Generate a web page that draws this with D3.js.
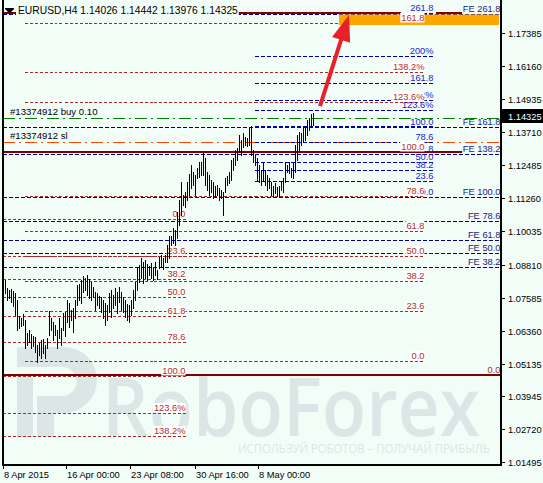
<!DOCTYPE html>
<html><head><meta charset="utf-8">
<script src="https://cdn.jsdelivr.net/npm/d3@7"></script>
<style>html,body{margin:0;padding:0;background:#F3FDF8;}svg{display:block}</style>
</head><body>
<svg id="c" width="543" height="483"></svg>
<script>
// ---------------- DATA ----------------
const titleText = "EURUSD,H4  1.14026 1.14442 1.13976 1.14325";
const currentPrice = 1.14325;
const currentPriceLabel = "1.14325";

// H4 bars (high / low), left to right
const barHigh = [1.0868,1.0824,1.0794,1.0787,1.0790,1.0783,1.0775,1.0750,1.0690,1.0683,
1.0698,1.0676,1.0628,1.0639,1.0624,1.0616,1.0613,1.0583,1.0590,1.0602,
1.0605,1.0583,1.0609,1.0709,1.0683,1.0668,1.0657,1.0639,1.0683,1.0646,
1.0701,1.0705,1.0750,1.0739,1.0713,1.0720,1.0750,1.0805,1.0809,1.0824,
1.0839,1.0831,1.0843,1.0828,1.0817,1.0798,1.0779,1.0775,1.0764,1.0761,
1.0750,1.0739,1.0731,1.0775,1.0787,1.0768,1.0794,1.0779,1.0798,1.0779,
1.0761,1.0750,1.0735,1.0731,1.0750,1.0787,1.0817,1.0868,1.0880,1.0905,
1.0891,1.0898,1.0883,1.0876,1.0887,1.0868,1.0891,1.0861,1.0909,1.0917,
1.0905,1.0917,1.0954,1.0987,1.0987,1.1017,1.1009,1.1076,1.1120,1.1187,
1.1139,1.1150,1.1187,1.1216,1.1250,1.1224,1.1213,1.1239,1.1261,1.1261,
1.1294,1.1276,1.1224,1.1213,1.1194,1.1187,1.1172,1.1176,1.1165,1.1157,
1.1150,1.1202,1.1209,1.1224,1.1268,1.1276,1.1305,1.1313,1.1361,1.1343,
1.1368,1.1354,1.1350,1.1387,1.1394,1.1305,1.1287,1.1276,1.1250,1.1231,
1.1261,1.1231,1.1213,1.1202,1.1187,1.1172,1.1183,1.1168,1.1172,1.1187,
1.1202,1.1261,1.1250,1.1261,1.1239,1.1257,1.1324,1.1361,1.1372,1.1368,
1.1387,1.1387,1.1417,1.1424,1.1437,1.1444];
const barLow = [1.0779,1.0775,1.0750,1.0757,1.0742,1.0728,1.0694,1.0639,1.0646,1.0653,
1.0657,1.0572,1.0583,1.0594,1.0572,1.0579,1.0557,1.0520,1.0546,1.0535,
1.0553,1.0535,1.0572,1.0620,1.0639,1.0602,1.0620,1.0572,1.0609,1.0583,
1.0639,1.0616,1.0668,1.0650,1.0676,1.0631,1.0683,1.0731,1.0750,1.0739,
1.0779,1.0787,1.0768,1.0757,1.0750,1.0761,1.0713,1.0731,1.0720,1.0705,
1.0683,1.0657,1.0676,1.0705,1.0687,1.0720,1.0731,1.0701,1.0742,1.0713,
1.0705,1.0687,1.0676,1.0668,1.0694,1.0720,1.0750,1.0787,1.0817,1.0831,
1.0813,1.0831,1.0824,1.0843,1.0831,1.0824,1.0843,1.0828,1.0868,1.0872,
1.0865,1.0891,1.0891,1.0905,1.0954,1.0961,1.0954,1.0980,1.1028,1.1065,
1.1102,1.1094,1.1120,1.1139,1.1165,1.1176,1.1139,1.1202,1.1205,1.1213,
1.1213,1.1176,1.1157,1.1139,1.1150,1.1128,1.1131,1.1139,1.1120,1.1128,
1.1065,1.1150,1.1176,1.1183,1.1194,1.1231,1.1250,1.1268,1.1298,1.1287,
1.1317,1.1324,1.1320,1.1324,1.1287,1.1261,1.1250,1.1194,1.1187,1.1176,
1.1194,1.1176,1.1157,1.1165,1.1139,1.1131,1.1146,1.1135,1.1131,1.1157,
1.1150,1.1187,1.1224,1.1220,1.1205,1.1202,1.1224,1.1268,1.1305,1.1324,
1.1335,1.1343,1.1361,1.1380,1.1391,1.1398];

const timeTickBars = [0, 32, 64, 96, 128];
const timeTickLabels = ["8 Apr 2015", "16 Apr 00:00", "23 Apr 08:00", "30 Apr 16:00", "8 May 00:00"];
const priceTickLabels = ["1.17385","1.16160","1.14935","1.13710","1.12485","1.11260","1.10035",
"1.08810","1.07585","1.06360","1.05135","1.03945","1.02720","1.01495"];

// Fibonacci retracement A (brown)
const fibA_ratios = [0, 23.6, 38.2, 50, 61.8, 78.6, 100, 123.6, 138.2, 161.8];
const fibA_labels = ["0.0","23.6","38.2","50.0","61.8","78.6","100.0","123.6%","138.2%","161.8"];
const fibA_prices = [1.0525, 1.1299];
const fibA_bars = [10.75, 210.25];
// Fibonacci retracement C (brown, lower left)
const fibC_ratios = [0, 23.6, 38.2, 50, 61.8, 78.6, 100, 123.6, 138.2];
const fibC_labels = ["0.0","23.6","38.2","50.0","61.8","78.6","100.0","123.6%","138.2%"];
const fibC_prices = [1.1050, 1.0468];
const fibC_bars = [-0.25, 90.75];
// Fibonacci B (blue)
const fibB_ratios = [0, 23.6, 38.2, 50, 61.8, 78.6, 100, 123.6, 138.2, 161.8, 200, 261.8];
const fibB_labels = ["0.0","23.6","38.2","50.0","61.8","78.6","100.0","123.6%","138.2%","161.8","200%","261.8"];
const fibB_prices = [1.1130, 1.1391];
const fibB_bars = [125.75, 214.75];
// Fibonacci expansion (navy)
const fe_ratios = [38.2, 50, 61.8, 78.6, 100, 138.2, 161.8, 261.8];
const fe_labels = ["FE 38.2","FE 50.0","FE 61.8","FE 78.6","FE 100.0","FE 138.2","FE 161.8","FE 261.8"];
const fe_prices = [1.0713, 1.1132];
const fe_bars = [-0.25, 248.25];
// solid levels (price, from bar, to bar, label)
const solidPrices = [1.1813, 1.1813, 1.1298, 1.0472];
const solidFrom = [-0.25, 216.25, -0.25, -0.25];
const solidTo = [198.25, 228.75, 228.75, 248.25];
const solidLabels = ["", "", "", "0.0"];
// order lines
const orderNames = ["#13374912 buy 0.10", "#13374912 sl"];
const orderPrices = [1.1423, 1.1334];
// target zone
const zonePrices = [1.1807, 1.1768];
const zoneBars = [167.75, 247.75];
// arrow
const arrowBars = [158.25, 172.75];
const arrowPrices = [1.1468, 1.1805];
// watermark
const wmBrand = "RoboForex";
const wmSlogan = "ИСПОЛЬЗУЙ РОБОТОВ – ПОЛУЧАЙ ПРИБЫЛЬ";

// ---------------- DRAW ----------------
const W = 543, H = 483, bg = "#F3FDF8";
const FONT = "Liberation Sans, Arial, sans-serif";
const svg = d3.select("#c");
svg.append("rect").attr("width", W).attr("height", H).attr("fill", bg);

const x = d3.scaleLinear().domain([0, 249]).range([3.5, 501.5]);
const y = d3.scaleLinear().domain([1.01495, 1.17385]).range([462, 33]);
svg.append("defs").append("clipPath").attr("id", "pc")
  .append("rect").attr("x", 2).attr("y", 0).attr("width", 499).attr("height", 465);

const plot = svg.append("g").attr("clip-path", "url(#pc)");

// watermark
const wm = plot.append("g").attr("fill", "#DCE6E6");
wm.append("path").attr("d",
  "M17,347 H64 A33,33 0 0 1 64,413 H54 V437 H37 V396 H62 A14.5,14.5 0 0 0 62,367 H17 Z M17,375 H33 V437 H17 Z");
wm.append("text").attr("x", 102).attr("y", 436).attr("font-family", "Open Sans, sans-serif")
  .attr("font-weight", 600)
  .attr("font-size", 82).attr("textLength", 378).attr("lengthAdjust", "spacingAndGlyphs").text(wmBrand);
wm.append("text").attr("x", 238).attr("y", 453).attr("font-family", "Open Sans, sans-serif")
  .attr("font-size", 13.5).attr("textLength", 252).attr("lengthAdjust", "spacingAndGlyphs").text(wmSlogan);

const lines = plot.append("g");
function hline(price, b0, b1, color, width, dash) {
  const yy = width % 2 === 1 ? Math.round(y(price)) + 0.5 : Math.round(y(price));
  lines.append("line").attr("x1", x(b0) - 0.5).attr("x2", x(b1) + 0.5)
    .attr("y1", yy).attr("y2", yy).attr("stroke", color).attr("stroke-width", width)
    .attr("stroke-dasharray", dash || null).attr("shape-rendering", "crispEdges");
}
const lvl = (p, r) => p[0] + r / 100 * (p[1] - p[0]);

fe_ratios.forEach(r => hline(lvl(fe_prices, r), fe_bars[0], fe_bars[1], "#000080", 1, "4,2"));
hline(orderPrices[1], -0.25, 248.25, "#FF4500", 1, "12,4,2,4");
hline(orderPrices[0], -0.25, 248.25, "#008000", 1, "12,4,2,4");
fibB_ratios.forEach(r => hline(lvl(fibB_prices, r), fibB_bars[0], fibB_bars[1], "#0000A0", r === 100 ? 2 : 1, "4,2"));
fibA_ratios.forEach(r => hline(lvl(fibA_prices, r), fibA_bars[0], fibA_bars[1], "#A52A2A", 1, "3,2"));
fibC_ratios.forEach(r => hline(lvl(fibC_prices, r), fibC_bars[0], fibC_bars[1], "#A52A2A", 1, "3,2"));
solidPrices.forEach((p, i) => hline(p, solidFrom[i], solidTo[i], "#800000", 2, null));

plot.append("rect").attr("x", x(zoneBars[0])).attr("width", x(zoneBars[1]) - x(zoneBars[0]))
  .attr("y", y(zonePrices[0])).attr("height", y(zonePrices[1]) - y(zonePrices[0])).attr("fill", "#FFA500");

const labels = plot.append("g").attr("font-family", FONT).attr("font-size", 9.3);
function label(txt, xr, price, color, box) {
  const yy = Math.round(y(price)) - 2;
  const g = labels.append("g");
  const t = g.append("text").attr("x", xr).attr("y", yy).attr("text-anchor", "end").attr("fill", color).text(txt);
  if (box) {
    const w = t.node().getComputedTextLength();
    g.insert("rect", "text").attr("x", xr - w - 1).attr("y", yy - 8).attr("width", w + 1).attr("height", 9.5).attr("fill", "#FFFFFF");
  }
}
fibB_ratios.forEach((r, i) => label(fibB_labels[i], x(fibB_bars[1]) + 0.5, lvl(fibB_prices, r), "#2222D8", false));
fe_ratios.forEach((r, i) => label(fe_labels[i], x(fe_bars[1]) + 0.5, lvl(fe_prices, r), "#202080", false));
solidPrices.forEach((p, i) => { if (solidLabels[i]) label(solidLabels[i], x(solidTo[i]) + 0.5, p, "#B03030", false); });
fibA_ratios.forEach((r, i) => label(fibA_labels[i], x(fibA_bars[1]) + 0.5, lvl(fibA_prices, r), "#B03030", true));
fibC_ratios.forEach((r, i) => label(fibC_labels[i], x(fibC_bars[1]) + 0.5, lvl(fibC_prices, r), "#B03030", true));
orderNames.forEach((n, i) => labels.append("text").attr("x", 10).attr("y", Math.round(y(orderPrices[i])) - 3)
  .attr("font-size", 9.6).attr("fill", "#000").text(n));

// bars
plot.append("g").selectAll("line").data(barHigh).join("line")
  .attr("x1", (d, i) => x(i)).attr("x2", (d, i) => x(i))
  .attr("y1", d => Math.round(y(d))).attr("y2", (d, i) => Math.round(y(barLow[i])) + 1)
  .attr("stroke", "#000").attr("stroke-width", 1).attr("shape-rendering", "crispEdges");

// arrow
{
  const x0 = x(arrowBars[0]), y0 = y(arrowPrices[0]), x1 = x(arrowBars[1]), y1 = y(arrowPrices[1]);
  const L = Math.hypot(x1 - x0, y1 - y0), ux = (x1 - x0) / L, uy = (y1 - y0) / L;
  const hl = 26, hw = 9.5;
  const bx = x1 - ux * hl, by = y1 - uy * hl;
  plot.append("line").attr("x1", x0).attr("y1", y0).attr("x2", bx + ux * 2).attr("y2", by + uy * 2)
    .attr("stroke", "#E8202A").attr("stroke-width", 4);
  plot.append("path").attr("d", `M${x1},${y1}L${bx - uy * hw},${by + ux * hw}L${bx + uy * hw},${by - ux * hw}Z`)
    .attr("fill", "#E8202A");
}

// frame
const frame = svg.append("g").attr("shape-rendering", "crispEdges").attr("stroke", "#000");
frame.append("line").attr("x1", 3).attr("x2", 3).attr("y1", 0).attr("y2", 466).attr("stroke-width", 2);
frame.append("line").attr("x1", 501).attr("x2", 501).attr("y1", 0).attr("y2", 466).attr("stroke-width", 2);
frame.append("line").attr("x1", 2).attr("x2", 502).attr("y1", 465).attr("y2", 465).attr("stroke-width", 2);

// y axis
const ya = svg.append("g").attr("font-family", FONT).attr("font-size", 9.3);
priceTickLabels.forEach(s => {
  const yy = Math.round(y(+s)) + 0.5;
  ya.append("line").attr("x1", 502).attr("x2", 505).attr("y1", yy).attr("y2", yy).attr("stroke", "#000").attr("shape-rendering", "crispEdges");
  ya.append("text").attr("x", 508).attr("y", yy + 3).attr("fill", "#000").text(s);
});
{
  const yy = Math.round(y(currentPrice));
  ya.append("rect").attr("x", 502).attr("y", yy - 7).attr("width", 41).attr("height", 14).attr("fill", "#000");
  ya.append("text").attr("x", 508).attr("y", yy + 3.5).attr("fill", "#fff").text(currentPriceLabel);
}
// x axis
const xa = svg.append("g").attr("font-family", FONT).attr("font-size", 9.3);
timeTickBars.forEach((b, i) => {
  const xx = Math.round(x(b)) - 0.5;
  xa.append("line").attr("x1", xx).attr("x2", xx).attr("y1", 466).attr("y2", 469).attr("stroke", "#000").attr("shape-rendering", "crispEdges");
  xa.append("text").attr("x", xx + 0.5).attr("y", 477.5).attr("fill", "#000").text(timeTickLabels[i]);
});

// title
const tg = svg.append("g").attr("font-family", FONT).attr("font-size", 10.3);
const tt = tg.append("text").attr("x", 18).attr("y", 14).attr("fill", "#000").text(titleText);
const tw = tt.node().getComputedTextLength();
tg.insert("rect", "text").attr("x", 16).attr("y", 2).attr("width", tw + 3).attr("height", 13).attr("fill", bg);
tg.append("path").attr("d", "M5,9 H14 L9.5,13.5 Z").attr("fill", "#000");
tg.append("line").attr("x1", 5).attr("x2", 14).attr("y1", 8.5).attr("y2", 8.5).attr("stroke", "#000");
</script>
</body></html>
